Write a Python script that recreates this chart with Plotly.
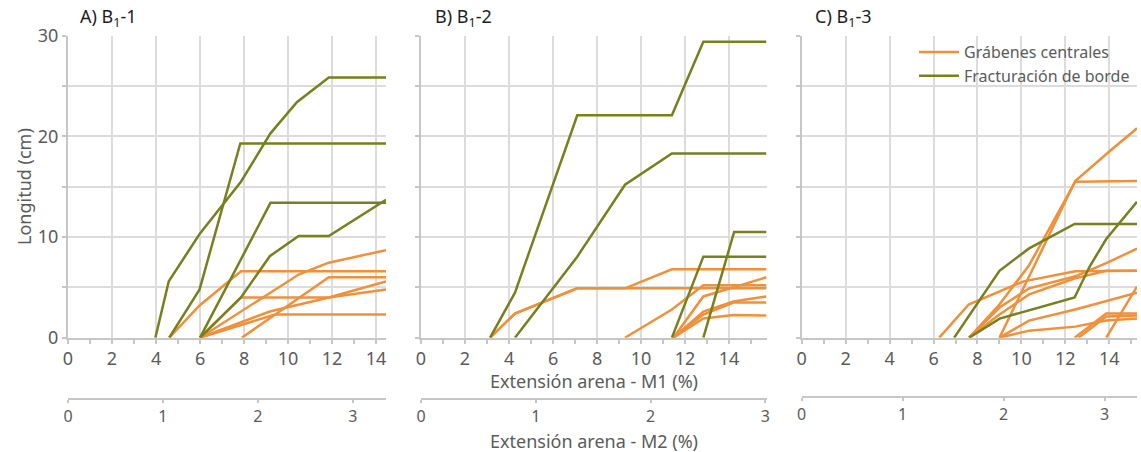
import plotly.graph_objects as go

W, H = 1141, 452

ORANGE = "#EF903B"
GREEN = "#77801E"
GRID = "#dcdcdc"
AXLINE = "#c6c6c6"
TXT = "#5b5b5b"
FONT = "Noto Sans"

# ---------------- data (Extensión arena M1 %, Longitud cm) ----------------
# Panel A) B1-1
a_green = [
    ([3.97, 4.58, 5.98, 7.86, 9.2, 10.4, 11.85, 14.45], [0, 5.6, 10.3, 15.5, 20.3, 23.4, 25.85, 25.85]),
    ([4.6, 5.98, 7.83, 14.45], [0, 4.8, 19.3, 19.3]),
    ([6.0, 9.2, 14.45], [0, 13.4, 13.4]),
    ([6.0, 7.86, 9.17, 10.48, 11.85, 14.45], [0, 4.0, 8.1, 10.1, 10.1, 13.7]),
]
a_orange = [
    ([4.6, 5.98, 7.86, 14.45], [0, 3.2, 6.6, 6.6]),
    ([6.0, 10.5, 11.85, 14.45], [0, 6.3, 7.45, 8.7]),
    ([7.9, 11.85, 14.45], [0, 6.0, 6.0]),
    ([6.0, 7.86, 11.85, 14.45], [0, 4.0, 4.0, 4.8]),
    ([6.0, 9.17, 11.85, 14.45], [0, 2.6, 4.0, 5.6]),
    ([6.0, 9.4, 14.45], [0, 2.3, 2.3]),
]
# Panel B) B1-2
b_green = [
    ([3.14, 4.27, 7.1, 11.4, 12.83, 15.7], [0, 4.47, 22.1, 22.1, 29.4, 29.4]),
    ([4.27, 7.1, 9.27, 11.4, 15.7], [0, 8.05, 15.2, 18.3, 18.3]),
    ([11.4, 12.83, 15.7], [0, 8.05, 8.05]),
    ([12.83, 14.23, 15.7], [0, 10.5, 10.5]),
]
b_orange = [
    ([3.14, 4.27, 7.1, 15.7], [0, 2.4, 4.9, 4.9]),
    ([3.14, 4.27, 7.1, 9.27, 11.4, 15.7], [0, 2.4, 4.9, 4.9, 6.8, 6.8]),
    ([9.27, 11.4, 12.83, 15.7], [0, 2.8, 5.2, 5.2]),
    ([11.47, 12.83, 14.2, 15.7], [0, 4.1, 5.0, 6.0]),
    ([11.47, 12.83, 14.2, 15.7], [0, 2.6, 3.6, 4.1]),
    ([11.47, 12.83, 14.2, 15.7], [0, 2.3, 3.5, 3.5]),
    ([11.47, 12.83, 14.2, 15.7], [0, 1.9, 2.25, 2.2]),
]
# Panel C) B1-3
c_green = [
    ([6.94, 9.0, 10.35, 12.42, 15.26], [0, 6.65, 8.87, 11.3, 11.3]),
    ([7.62, 9.01, 12.42, 13.1, 13.86, 15.26], [0, 1.9, 4.0, 7.05, 9.8, 13.5]),
]
c_orange = [
    ([6.26, 7.6, 10.1, 12.45, 15.26], [0, 3.3, 5.6, 6.6, 6.65]),
    ([7.62, 9.0, 10.35, 12.45, 13.86, 15.26], [0, 3.0, 4.9, 6.1, 7.4, 8.85]),
    ([7.62, 9.0, 10.35, 12.45, 15.26], [0, 3.3, 7.2, 15.5, 15.56]),
    ([9.0, 12.45, 14.0, 15.26], [0, 15.56, 18.5, 20.8]),
    ([7.62, 9.0, 10.35, 12.45, 13.86, 15.26], [0, 2.3, 4.3, 5.9, 6.65, 6.65]),
    ([9.0, 10.35, 12.45, 15.26], [0, 1.7, 2.8, 4.47]),
    ([9.0, 10.35, 12.45, 13.86, 15.26], [0, 0.7, 1.1, 1.7, 1.9]),
    ([12.42, 13.86, 15.26], [0, 2.4, 2.4]),
    ([12.6, 13.86, 15.26], [0, 2.1, 2.2]),
    ([13.86, 15.26], [0, 5.07]),
]

panels = [("A", "1", a_orange, a_green), ("B", "2", b_orange, b_green), ("C", "3", c_orange, c_green)]

# M1 axis ranges and M2 (secondary) ranges per panel
m1_max = [14.45, 15.7, 15.26]
m2_max = [3.35, 3.01, 3.32]
m1_ticks = [0, 2, 4, 6, 8, 10, 12, 14]
m2_ticks = [0, 1, 2, 3]
y_ticks = [0, 5, 10, 15, 20, 25, 30]
y_ticktext = ["0", "", "10", "", "20", "", "30"]

# pixel layout
px_left = [68, 421, 801.7]
px_right = [386, 766.5, 1137]
py_top, py_bottom = 35.7, 337.7
m2_line_py = [399, 399, 397]

fig = go.Figure()

for i, (letter, num, oranges, greens) in enumerate(panels):
    xa = "x" if i == 0 else f"x{i+1}"
    ya = "y" if i == 0 else f"y{i+1}"
    for j, (xs, ys) in enumerate(oranges):
        fig.add_trace(go.Scatter(
            x=xs, y=ys, mode="lines", xaxis=xa, yaxis=ya,
            line=dict(color=ORANGE, width=2.5),
            name="Grábenes centrales", legendgroup="o",
            showlegend=(i == 2 and j == 0), hoverinfo="skip"))
    for j, (xs, ys) in enumerate(greens):
        fig.add_trace(go.Scatter(
            x=xs, y=ys, mode="lines", xaxis=xa, yaxis=ya,
            line=dict(color=GREEN, width=2.5),
            name="Fracturación de borde", legendgroup="g",
            showlegend=(i == 2 and j == 0), hoverinfo="skip"))
    # invisible trace to instantiate the secondary M2 axis
    fig.add_trace(go.Scatter(
        x=[0, m2_max[i]], y=[None, None], mode="lines", xaxis=f"x{i+4}", yaxis=ya,
        showlegend=False, hoverinfo="skip"))

layout = dict(
    width=W, height=H,
    margin=dict(l=0, r=0, t=0, b=0, autoexpand=False),
    paper_bgcolor="white", plot_bgcolor="white",
    font=dict(family=FONT, color=TXT, size=16),
    showlegend=True,
    legend=dict(x=914 / W, y=1 - 35 / H, xanchor="left", yanchor="top",
                bgcolor="rgba(255,255,255,0)", font=dict(size=16, color=TXT),
                tracegroupgap=0, itemwidth=40),
)

ydom = [1 - py_bottom / H, 1 - py_top / H]
for i in range(3):
    xdom = [px_left[i] / W, px_right[i] / W]
    xk = "xaxis" if i == 0 else f"xaxis{i+1}"
    yk = "yaxis" if i == 0 else f"yaxis{i+1}"
    ya = "y" if i == 0 else f"y{i+1}"
    xa = "x" if i == 0 else f"x{i+1}"
    layout[xk] = dict(
        domain=xdom, anchor=ya, range=[0, m1_max[i]], automargin=False,
        tickvals=m1_ticks, ticktext=[str(v) for v in m1_ticks],
        showgrid=True, gridcolor=GRID, gridwidth=2,
        showline=True, linecolor=AXLINE, linewidth=2,
        ticks="outside", ticklen=4, tickcolor=AXLINE, tickwidth=1.5,
        minor=dict(dtick=1, tick0=1, ticks="outside", ticklen=4, tickcolor=AXLINE, showgrid=False),
        tickfont=dict(size=18, color=TXT), zeroline=False, fixedrange=True)
    layout[yk] = dict(
        domain=ydom, anchor=xa, range=[0, 30], automargin=False,
        tickvals=y_ticks, ticktext=y_ticktext if i == 0 else [""] * len(y_ticks),
        showgrid=True, gridcolor=GRID, gridwidth=2,
        showline=True, linecolor=AXLINE, linewidth=2,
        ticks="outside", ticklen=4, tickcolor=AXLINE, tickwidth=1.5,
        tickfont=dict(size=18, color=TXT), zeroline=False, fixedrange=True)
    layout[f"xaxis{i+4}"] = dict(
        overlaying=xa, anchor="free", position=1 - m2_line_py[i] / H, automargin=False,
        side="bottom", domain=xdom, range=[0, m2_max[i]],
        tickvals=m2_ticks, ticktext=[str(v) for v in m2_ticks],
        showgrid=False, showline=True, linecolor=AXLINE, linewidth=2,
        ticks="outside", ticklen=3, tickcolor=AXLINE, tickwidth=1.5,
        tickfont=dict(size=16, color=TXT), zeroline=False, fixedrange=True)

fig.update_layout(**layout)

# panel titles
title_px = [78, 433, 813]
for i, (letter, num, _, _) in enumerate(panels):
    fig.add_annotation(
        x=title_px[i] / W, y=1 - 17 / H, xref="paper", yref="paper",
        xanchor="left", yanchor="middle", showarrow=False,
        text=f"{letter}) B<sub>1</sub>-{num}", font=dict(size=18, color="#1e1e1e"))

# axis titles
fig.add_annotation(x=593.5 / W, y=1 - 381 / H, xref="paper", yref="paper",
                   xanchor="center", yanchor="middle", showarrow=False,
                   text="Extensión arena - M1 (%)", font=dict(size=18, color=TXT))
fig.add_annotation(x=593.5 / W, y=1 - 441 / H, xref="paper", yref="paper",
                   xanchor="center", yanchor="middle", showarrow=False,
                   text="Extensión arena - M2 (%)", font=dict(size=18, color=TXT))
fig.add_annotation(x=24 / W, y=1 - 187 / H, xref="paper", yref="paper",
                   xanchor="center", yanchor="middle", showarrow=False, textangle=-90,
                   text="Longitud (cm)", font=dict(size=18, color=TXT))

fig.write_html("out.html")
